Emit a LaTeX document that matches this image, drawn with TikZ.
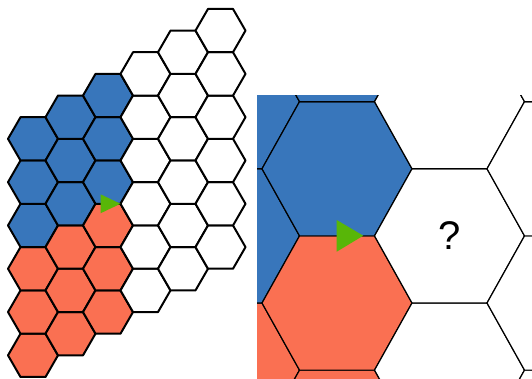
\documentclass[tikz,border=0pt]{standalone}
\usepackage{fontspec}
\setmainfont{Liberation Sans}
\definecolor{hexblue}{RGB}{56,118,187}
\definecolor{hexred}{RGB}{250,112,82}
\definecolor{pointgreen}{RGB}{88,182,8}

% one hexagon at column #1, row #2
\newcommand{\hexat}[3]{%
  \draw[fill=#3,shift={(37.5*#1,21.65*#1+43.3*#2)}]
    (0:25) -- (60:25) -- (120:25) -- (180:25) -- (240:25) -- (300:25) -- cycle;}
% the whole board
\newcommand{\hexboard}{%
  \foreach \c in {0,...,5}
    \foreach \r in {0,...,5} {
      \ifnum\c>2 \def\hexcol{white}\else\ifnum\r>2 \def\hexcol{hexblue}\else\def\hexcol{hexred}\fi\fi
      \hexat{\c}{\r}{\hexcol}
    }}

\begin{document}
\begin{tikzpicture}[x=1pt,y=1pt,
  small/.style={line width=2pt,line join=round},
  big/.style={line width=1.2pt,line join=round}]
\useasboundingbox (0,0) rectangle (532,379);

% board
\begin{scope}[small,shift={(33,23.65)}]
\hexboard
\end{scope}
\fill[pointgreen] (100.5,184.7) -- (120.5,175.2) -- (100.5,165.7) -- cycle;

% close-up
\begin{scope}
\clip (257,0) rectangle (532,283);
\begin{scope}[big,shift={(112,-326.7)},xscale=3,yscale=3.1]
\hexboard
\node[font=\fontsize{40}{40}\selectfont] (q) at (112.5,151.55) {?};
\end{scope}
\end{scope}
\fill[pointgreen] (336.7,159) -- (363.3,143.3) -- (336.7,127.3) -- cycle;
\end{tikzpicture}
\end{document}
